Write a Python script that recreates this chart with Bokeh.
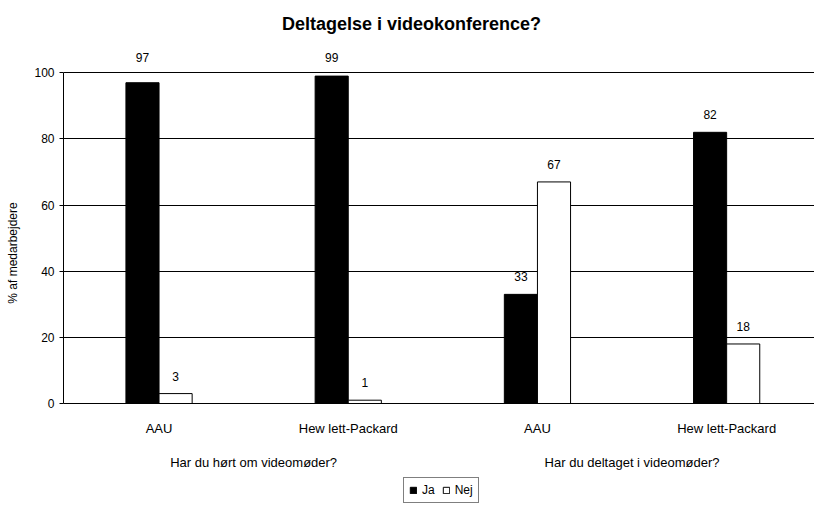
from bokeh.plotting import figure
from bokeh.models import (ColumnDataSource, Range1d, FixedTicker, LabelSet, Label,
                          Legend, LegendItem)
from bokeh.core.properties import value
from bokeh.transform import dodge
from bokeh.embed import file_html
from bokeh.resources import INLINE

# ---- data ----
title_text = "Deltagelse i videokonference?"
y_label = "% af medarbejdere"
companies = ["AAU", "Hew lett-Packard", "AAU", "Hew lett-Packard"]
groups = ["Har du hørt om videomøder?", "Har du deltaget i videomøder?"]
ja = [97, 99, 33, 82]
nej = [3, 1, 67, 18]
series_names = ["Ja", "Nej"]
y_ticks = [0, 20, 40, 60, 80, 100]

FONT = "Liberation Sans"
BW = 0.175
OFF = BW / 2

xs = list(range(len(companies)))
src = ColumnDataSource(dict(
    x=xs, ja=ja, nej=nej,
    ja_txt=[str(v) for v in ja], nej_txt=[str(v) for v in nej],
    ja_ly=[v if v < 90 else 99.3 for v in ja],
    nej_ly=[v if v < 90 else 99.3 for v in nej],
))

W, H = 814, 505
LEFT = 63
PX_PER_Y = 3.307          # pixels per percentage point
Y0_PX = 403               # pixel row of y = 0
PX_PER_X = 189.2          # pixels per category
X0 = -0.505
y_top = (Y0_PX) / PX_PER_Y
y_bot = -(H - Y0_PX) / PX_PER_Y

p = figure(width=W, height=H, output_backend="svg", toolbar_location=None,
           x_range=Range1d(X0, X0 + (W - LEFT) / PX_PER_X),
           y_range=Range1d(y_bot, y_top),
           min_border_left=LEFT, min_border_right=0, min_border_top=0,
           min_border_bottom=0)
p.outline_line_color = None
p.background_fill_color = "white"
p.border_fill_color = "white"

r_ja = p.vbar(x=dodge("x", -OFF, range=p.x_range), top="ja", width=BW, source=src,
              fill_color="black", line_color="black", line_width=1)
r_nej = p.vbar(x=dodge("x", OFF, range=p.x_range), top="nej", width=BW, source=src,
               fill_color="white", line_color="black", line_width=1)

for col, ly, dx in (("ja_txt", "ja_ly", -OFF), ("nej_txt", "nej_ly", OFF)):
    p.add_layout(LabelSet(x=dodge("x", dx, range=p.x_range), y=ly, text=col, source=src,
                          y_offset=17.5, text_align="center", text_baseline="middle",
                          text_font=value(FONT), text_font_size=value("12px"),
                          text_color="black"))

# axes
p.xgrid.visible = False
p.ygrid.ticker = FixedTicker(ticks=y_ticks)
p.ygrid.grid_line_color = "black"
p.ygrid.grid_line_width = 1

p.yaxis.ticker = FixedTicker(ticks=y_ticks)
p.yaxis.bounds = (0, 100)
p.yaxis.axis_label = y_label
p.yaxis.axis_label_text_font = FONT
p.yaxis.axis_label_text_font_size = "12px"
p.yaxis.axis_label_text_font_style = "normal"
p.yaxis.axis_label_text_color = "black"
p.yaxis.axis_label_standoff = 11
p.yaxis.major_tick_out = 4
p.yaxis.major_tick_in = 0
p.yaxis.minor_tick_out = 0
p.yaxis.minor_tick_in = 0
p.yaxis.major_label_standoff = 5
p.yaxis.major_label_text_font = FONT
p.yaxis.major_label_text_font_size = "12px"
p.yaxis.major_label_text_color = "black"
p.yaxis.axis_line_color = "black"
p.yaxis.major_tick_line_color = "black"

p.xaxis.fixed_location = 0
p.xaxis.ticker = FixedTicker(ticks=xs)
p.xaxis.major_label_overrides = {i: c for i, c in zip(xs, companies)}
p.xaxis.major_tick_out = 0
p.xaxis.major_tick_in = 0
p.xaxis.minor_tick_out = 0
p.xaxis.minor_tick_in = 0
p.xaxis.major_label_standoff = 17
p.xaxis.major_label_text_font = FONT
p.xaxis.major_label_text_font_size = "13px"
p.xaxis.major_label_text_color = "black"
p.xaxis.axis_line_color = "black"

# group labels
for gi, g in enumerate(groups):
    p.add_layout(Label(x=2 * gi + 0.5, y=-17.8, text=g, text_align="center",
                       text_baseline="middle", text_font=FONT, text_font_size="13px",
                       text_color="black"))

# title
p.add_layout(Label(x=1.334, y=114.8, text=title_text, text_align="center",
                   text_baseline="middle", text_font=FONT, text_font_size="18px",
                   text_font_style="bold", text_color="black"))

legend = Legend(items=[LegendItem(label=series_names[0], renderers=[r_ja]),
                       LegendItem(label=series_names[1], renderers=[r_nej])],
                orientation="horizontal", location=(340, 2),
                glyph_width=8, glyph_height=8, label_height=14, label_width=10,
                label_standoff=5, spacing=7, padding=5, margin=0,
                label_text_font=FONT, label_text_font_size="12px",
                label_text_color="black",
                border_line_color="black", border_line_width=1,
                background_fill_color="white", background_fill_alpha=1)
p.add_layout(legend, "center")

open("out.html", "w").write(file_html(p, INLINE))
